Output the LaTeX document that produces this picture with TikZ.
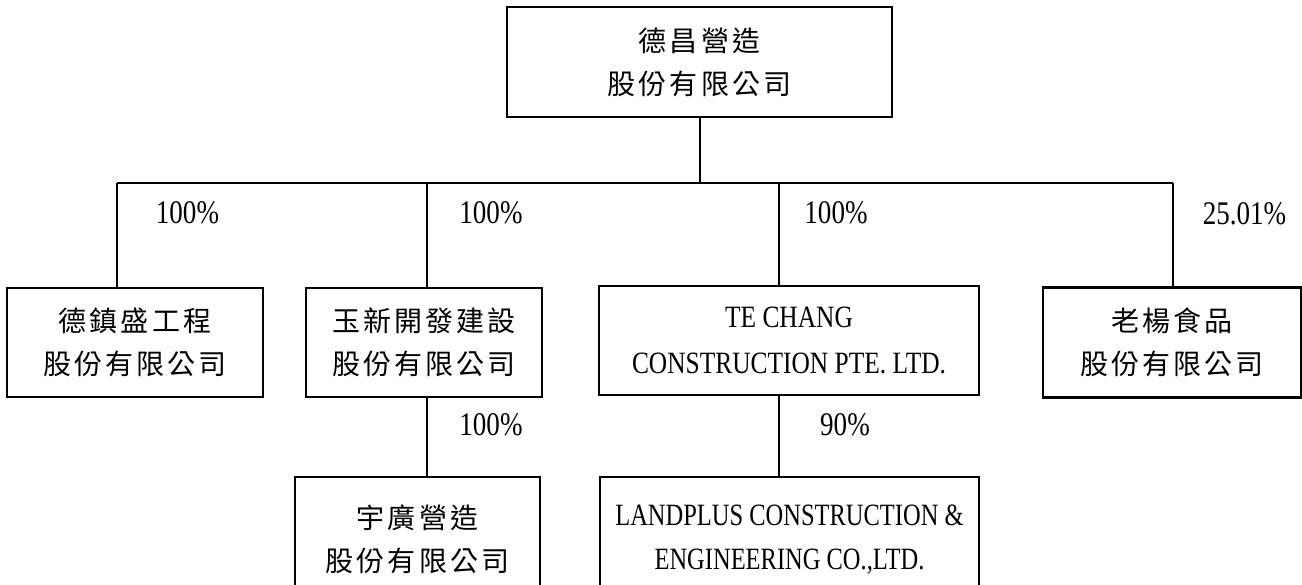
\documentclass[tikz,border=0pt]{standalone}
\usepackage{fontspec}
\newfontfamily\cjk[LetterSpace=11]{Noto Sans CJK TC}
\newfontfamily\lat[FakeStretch=0.82]{Liberation Serif}
\newfontfamily\latn[FakeStretch=0.79]{Liberation Serif}
\begin{document}
\begin{tikzpicture}[x=1pt,y=-1pt,
  box/.style={draw, line width=2.5pt, inner sep=0pt, align=center},
  cjkbox/.style={box, font=\cjk\fontsize{28}{43}\selectfont},
  latbox/.style={box, font=\lat\fontsize{31}{46}\selectfont},
  latnbox/.style={box, font=\latn\fontsize{31}{44}\selectfont},
  pct/.style={font=\lat\fontsize{33}{40}\selectfont, inner sep=0pt},
  link/.style={line width=2pt}]
\clip (0,0) rectangle (1302,585);
\fill[white] (0,0) rectangle (1302,585);
% boxes
\node[cjkbox, minimum width=385pt, minimum height=110pt] (top) at (699.5,62) {德昌營造\\股份有限公司};
\node[cjkbox, minimum width=256pt, minimum height=109pt] (b1) at (135,342.5) {德鎮盛工程\\股份有限公司};
\node[cjkbox, minimum width=236pt, minimum height=109pt] (b2) at (424,342.5) {玉新開發建設\\股份有限公司};
\node[latbox, minimum width=380pt, minimum height=109pt] (b3) at (789,340.5) {TE CHANG\\CONSTRUCTION PTE. LTD.};
\node[cjkbox, minimum width=258pt, minimum height=110pt] (b4) at (1172,342.5) {老楊食品\\股份有限公司};
\node[cjkbox, minimum width=245pt, minimum height=125pt] (b5) at (417.5,539.5) {宇廣營造\\股份有限公司};
\node[latnbox, minimum width=379pt, minimum height=125pt] (b6) at (789.5,539.5) {LANDPLUS CONSTRUCTION \&\\ENGINEERING CO.,LTD.};
% bus coordinates
\coordinate (busL) at (117,183);
\coordinate (busR) at (1173,183);
\coordinate (j2) at (427,183);
\coordinate (j3) at (779,183);
% connectors
\draw[link] (top.south) -- (top.south |- busL);
\draw[link] (busL) -- (busR);
\draw[link] (busL) -- (busL |- b1.north);
\draw[link] (j2) -- (j2 |- b2.north);
\draw[link] (j3) -- (j3 |- b3.north);
\draw[link] (busR) -- (busR |- b4.north);
\draw[link] (b2.south -| j2) -- (b5.north -| j2);
\draw[link] (b3.south -| j3) -- (b6.north -| j3);
% percentages
\node[pct] (p1) at (187.5,213) {100\%};
\node[pct] (p2) at (491,213) {100\%};
\node[pct] (p3) at (836,213) {100\%};
\node[pct] (p4) at (1244.5,214) {25.01\%};
\node[pct] (p5) at (491,425) {100\%};
\node[pct] (p6) at (845,425) {90\%};
\end{tikzpicture}
\end{document}
